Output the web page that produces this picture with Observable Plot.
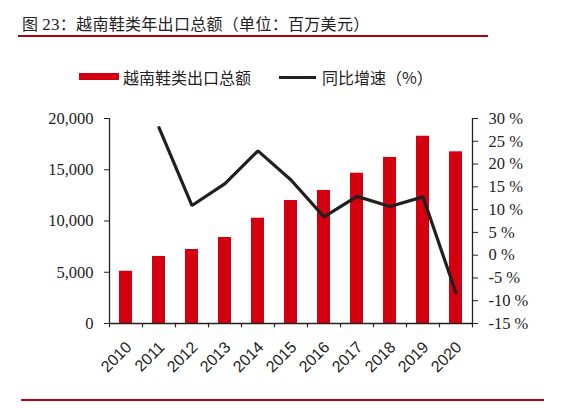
<!DOCTYPE html>
<html>
<head>
<meta charset="utf-8">
<script src="https://cdn.jsdelivr.net/npm/d3@7"></script>
<script src="https://cdn.jsdelivr.net/npm/@observablehq/plot@0.6"></script>
<style>
  body { margin: 0; background: #fff; width: 586px; height: 408px; position: relative; overflow: hidden; font-family: "Noto Sans CJK SC", sans-serif; }
  #title { position: absolute; left: 22px; top: 11px; font-size: 16px; color: #222; letter-spacing: 0.3px; }
  #title .num { font-family: "Liberation Serif", serif; font-size: 17px; }
  #topline { position: absolute; left: 18px; top: 35px; width: 470px; height: 2px; background: #b5000f; }
  #bottomline { position: absolute; left: 21px; top: 399px; width: 523px; height: 2px; background: #b5000f; }
  .leg { position: absolute; font-size: 16px; color: #222; top: 66px; line-height: 22px; }
  #sw1 { position: absolute; left: 79px; top: 73px; width: 40px; height: 7px; background: #d40010; }
  #sw2 { position: absolute; left: 279px; top: 76px; width: 37px; height: 3px; background: #231f20; }
  #chart { position: absolute; left: 0; top: 100px; }
</style>
</head>
<body>
<div id="title">图 <span class="num">23</span>：越南鞋类年出口总额（单位：百万美元）</div>
<div id="topline"></div>
<div id="sw1"></div><div class="leg" style="left:123px">越南鞋类出口总额</div>
<div id="sw2"></div><div class="leg" style="left:322px">同比增速（%）</div>
<div id="chart"></div>
<div id="bottomline"></div>
<script>
const years = ["2010","2011","2012","2013","2014","2015","2016","2017","2018","2019","2020"];
const exports = [5100, 6540, 7220, 8390, 10270, 12000, 12980, 14660, 16200, 18270, 16750];
const growth = [null, 28.0, 10.9, 15.7, 22.9, 16.5, 8.4, 12.9, 10.7, 12.8, -8.3];
const leftTicks = [0, 5000, 10000, 15000, 20000];
const rightTicks = [-15, -10, -5, 0, 5, 10, 15, 20, 25, 30];

const pMin = -15, pMax = 30, yMax = 20000;
const toY = p => (p - pMin) / (pMax - pMin) * yMax;

const barData = years.map((y, i) => ({year: y, value: exports[i]}));
const lineData = years.map((y, i) => ({year: y, g: growth[i]})).filter(d => d.g != null);

const bw = (472 - 109) / years.length;
const serif = "Liberation Serif, serif";

const chart = Plot.plot({
  width: 586,
  height: 295,
  marginTop: 18,
  marginBottom: 72,
  marginLeft: 109,
  marginRight: 114,
  x: {type: "band", domain: years, padding: 0},
  y: {domain: [0, yMax]},
  style: {background: "transparent", color: "#222"},
  marks: [
    Plot.barY(barData, {x: "year", y: "value", fill: "#d40010", insetLeft: 10, insetRight: 10}),
    Plot.line(lineData, {x: "year", y: d => toY(d.g), stroke: "#231f20", strokeWidth: 3.2, strokeLinejoin: "miter"}),
    // axis lines
    Plot.ruleX([years[0]], {x: d => d, dx: -bw / 2, y1: 0, y2: yMax, stroke: "#222", strokeWidth: 1.3}),
    Plot.ruleX([years[years.length - 1]], {x: d => d, dx: bw / 2, y1: 0, y2: yMax, stroke: "#222", strokeWidth: 1.3}),
    Plot.ruleY([0], {stroke: "#222", strokeWidth: 1.3}),
    // x ticks at band boundaries
    Plot.ruleX(years, {x: d => d, dx: -bw / 2, y1: 0, y2: -420, stroke: "#222", strokeWidth: 1.2}),
    Plot.ruleX([years[years.length - 1]], {x: d => d, dx: bw / 2, y1: 0, y2: -420, stroke: "#222", strokeWidth: 1.2}),
    Plot.axisX({tickSize: 0, tickPadding: 12, tickRotate: -45, dx: 3, dy: 9, fontSize: 16, fontFamily: "Liberation Sans, Arial, sans-serif", label: null}),
    Plot.axisY({anchor: "left", ticks: leftTicks, tickFormat: d3.format(","), tickSize: 5, tickPadding: 11, fontSize: 16.5, fontFamily: serif, label: null, letterSpacing: 1.2}),
    Plot.axisY({anchor: "right", ticks: rightTicks.map(toY), tickFormat: v => `${Math.round(v / yMax * (pMax - pMin) + pMin)} %`, tickSize: 5, tickPadding: 11, fontSize: 16.5, fontFamily: serif, label: null})
  ]
});
document.getElementById("chart").appendChild(chart);
</script>
</body>
</html>
